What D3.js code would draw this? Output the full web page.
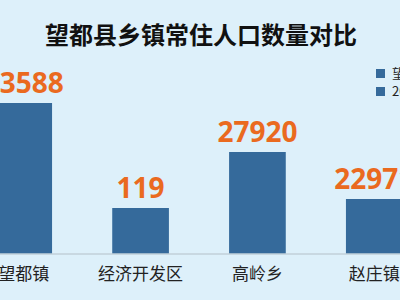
<!DOCTYPE html>
<html>
<head>
<meta charset="utf-8">
<script src="https://cdn.jsdelivr.net/npm/d3@7"></script>
<style>
  html, body { margin: 0; padding: 0; overflow: hidden; }
  body { width: 400px; height: 300px; background: #ddf0fa; }
</style>
</head>
<body>
<svg id="chart"></svg>
<script>
// chart data
const towns = ["望都镇", "经济开发区", "高岭乡", "赵庄镇"];
const population = [33588, 119, 27920, 22971];
const legendLabels = ["望都县常住人口", "2020年人口普查"];
const chartTitle = "望都县乡镇常住人口数量对比";

const config = {
    width: 400,
    height: 300,
    margin: {top: 0, right: 0, bottom: 46.5, left: 0},
    barColor: "#356a9b",
    labelColor: "#ea6a1f"
};

const svg = d3.select("#chart")
    .attr("width", config.width)
    .attr("height", config.height);

svg.append("rect")
    .attr("width", config.width)
    .attr("height", config.height)
    .attr("fill", "#ddf0fa");

const baseY = config.height - config.margin.bottom;

// band scale, the chart is wider than the picture and cut at both sides
const xScale = d3.scaleBand()
    .domain(towns)
    .range([-35, 433])
    .paddingInner(0.515)
    .paddingOuter(0.26);

// the source picture does not draw bars proportionally, so bar height
// follows a piecewise linear scale through the sorted values
const sorted = [0].concat(population.slice().sort((a, b) => a - b));
const yScale = d3.scaleLinear()
    .domain(sorted)
    .range([baseY, 208, 199, 152, 103]);

// title
svg.append("text")
    .attr("x", 201)
    .attr("y", 44)
    .attr("text-anchor", "middle")
    .attr("font-family", "'Noto Sans CJK SC', sans-serif")
    .attr("font-weight", "bold")
    .attr("font-size", 24)
    .attr("fill", "#111")
    .text(chartTitle);

// bars
svg.selectAll(".bar")
    .data(population)
    .join("rect")
    .attr("class", "bar")
    .attr("x", (d, i) => xScale(towns[i]))
    .attr("width", xScale.bandwidth())
    .attr("y", d => yScale(d))
    .attr("height", d => baseY - yScale(d))
    .attr("fill", config.barColor);

// value labels
svg.selectAll(".value")
    .data(population)
    .join("text")
    .attr("class", "value")
    .attr("x", (d, i) => xScale(towns[i]) + xScale.bandwidth() / 2)
    .attr("y", d => yScale(d) - 10)
    .attr("text-anchor", "middle")
    .attr("font-family", "'Noto Sans', sans-serif")
    .attr("font-weight", "bold")
    .attr("font-size", 28)
    .attr("fill", config.labelColor)
    .text(d => d);

// x axis
const xAxis = d3.axisBottom(xScale).tickSize(0).tickPadding(14);
const xAxisG = svg.append("g")
    .attr("transform", `translate(0,${baseY})`)
    .call(xAxis);
xAxisG.select(".domain").attr("stroke", "#b4c0c8").attr("d", `M-40,0.5H440`);
xAxisG.selectAll("text")
    .attr("font-family", "'Noto Sans CJK SC', sans-serif")
    .attr("font-size", 17)
    .attr("fill", "#222");

// legend
const legend = svg.append("g").attr("transform", "translate(376,69)");
const items = legend.selectAll("g")
    .data(legendLabels)
    .join("g")
    .attr("transform", (d, i) => `translate(0,${i * 18})`);
items.append("rect")
    .attr("width", 9)
    .attr("height", 9)
    .attr("fill", config.barColor);
items.append("text")
    .attr("x", 16)
    .attr("y", 9)
    .attr("font-family", "'Noto Sans CJK SC', sans-serif")
    .attr("font-size", 13)
    .attr("fill", "#222")
    .text(d => d);
</script>
</body>
</html>
